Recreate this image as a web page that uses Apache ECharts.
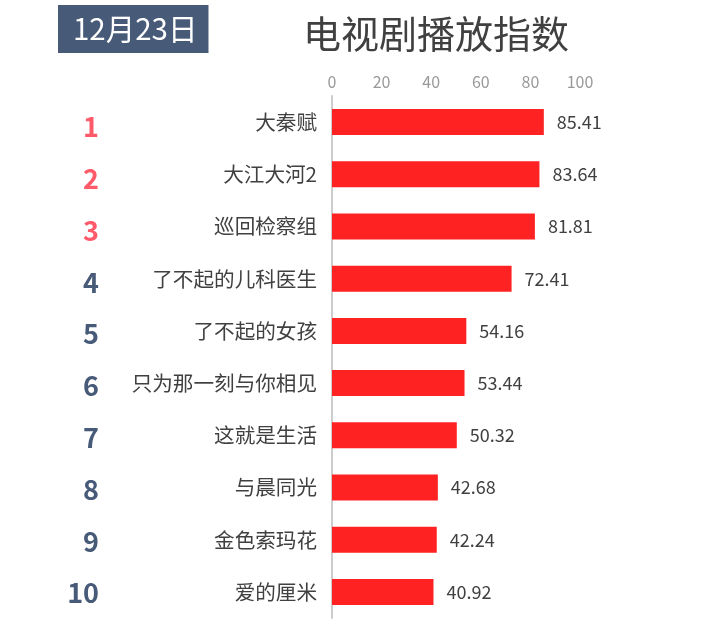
<!DOCTYPE html>
<html>
<head>
<meta charset="utf-8">
<title>电视剧播放指数</title>
<style>
html, body { margin: 0; padding: 0; background: #fff; }
#chart { width: 720px; height: 624px; }
</style>
<script src="https://cdn.jsdelivr.net/npm/echarts@6/dist/echarts.min.js"></script>
</head>
<body>
<div id="chart"></div>
<script>
const dateLabel = '12月23日';
const chartTitle = '电视剧播放指数';
const ranks = ['1', '2', '3', '4', '5', '6', '7', '8', '9', '10'];
const shows = ['大秦赋', '大江大河2', '巡回检察组', '了不起的儿科医生', '了不起的女孩', '只为那一刻与你相见', '这就是生活', '与晨同光', '金色索玛花', '爱的厘米'];
const playIndex = [85.41, 83.64, 81.81, 72.41, 54.16, 53.44, 50.32, 42.68, 42.24, 40.92];

const fontCJK = '"Noto Sans CJK SC", "Noto Sans", sans-serif';
const chart = echarts.init(document.getElementById('chart'), null, { renderer: 'canvas' });

chart.setOption({
    backgroundColor: '#fff',
    animation: false,
    textStyle: { fontFamily: fontCJK },
    title: [
        {
            text: chartTitle,
            left: 298,
            top: 10,
            textStyle: { fontSize: 38, fontWeight: 'normal', color: '#404040', fontFamily: fontCJK },
        },
        {
            text: dateLabel,
            left: 58,
            top: 5,
            padding: [7, 11, 7, 15],
            backgroundColor: '#475a78',
            textStyle: { fontSize: 29.5, fontWeight: 'normal', color: '#fff', fontFamily: fontCJK, lineHeight: 34 },
        },
    ],
    grid: [
        { left: 332, top: 96, width: 248, height: 522 },
        // rank numbers sit on their own slightly tighter and lower grid
        { left: 110, top: 101, width: 10, height: 518 },
    ],
    xAxis: [
        {
            type: 'value',
            gridIndex: 0,
            position: 'top',
            min: 0,
            max: 100,
            interval: 20,
            axisLine: { show: false },
            axisTick: { show: false },
            splitLine: { show: false },
            axisLabel: { color: '#999', fontSize: 16, margin: 6 },
        },
        { type: 'value', gridIndex: 1, show: false },
    ],
    yAxis: [
        {
            type: 'category',
            gridIndex: 0,
            data: shows,
            inverse: true,
            axisLine: { lineStyle: { color: '#ccc', width: 2 } },
            axisTick: { length: 5, alignWithLabel: false, lineStyle: { color: '#ccc' } },
            axisLabel: { color: '#404040', fontSize: 20.6, margin: 15, interval: 0 },
        },
        {
            type: 'category',
            gridIndex: 1,
            data: ranks,
            inverse: true,
            axisLine: { show: false },
            axisTick: { show: false },
            axisLabel: {
                fontSize: 27,
                fontWeight: 'bold',
                margin: 11,
                interval: 0,
                color: (value, index) => (index < 3 ? '#ff5a6a' : '#475a78'),
            },
        },
    ],
    series: [
        {
            type: 'bar',
            xAxisIndex: 0,
            yAxisIndex: 0,
            data: playIndex,
            barWidth: 26,
            itemStyle: { color: '#ff2222' },
            label: {
                show: true,
                position: 'right',
                distance: 13,
                color: '#404040',
                fontSize: 18,
                formatter: p => p.value.toFixed(2),
            },
        },
    ],
});
</script>
</body>
</html>
